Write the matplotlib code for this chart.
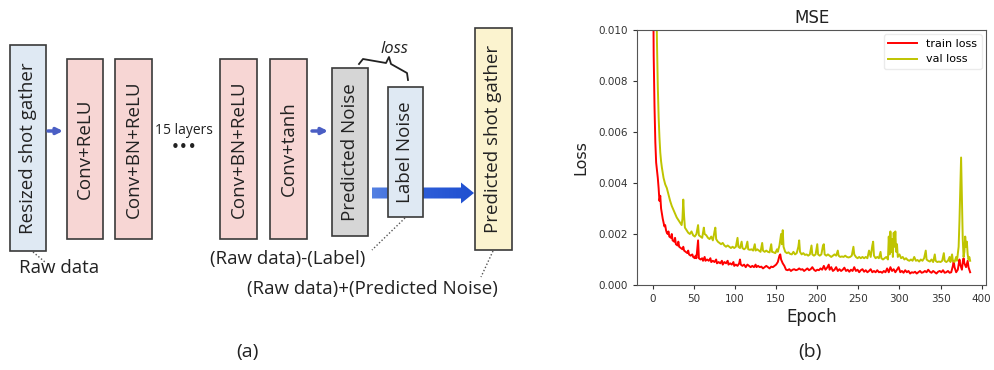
import numpy as np
import matplotlib.pyplot as plt
from matplotlib.patches import Rectangle, FancyArrow
from matplotlib.colors import LinearSegmentedColormap

# training curves (loss values in units of 1e-3)
train_epochs = [0, 1, 2, 3, 4, 5, 6, 7, 8, 9, 10, 11, 12, 13, 14, 15, 16, 17, 18, 19,
                20, 22, 23, 24, 26, 27, 28, 30, 31, 32, 34, 36, 37, 38, 40, 42, 43, 44, 46, 48,
                49, 51, 52, 53, 55, 56, 58, 60, 61, 63, 64, 66, 68, 70, 71, 73, 75, 77, 78, 80,
                82, 84, 85, 87, 89, 91, 92, 94, 96, 98, 99, 101, 103, 105, 106, 107, 109, 111, 113, 115,
                117, 119, 121, 123, 125, 126, 128, 130, 132, 134, 136, 138, 140, 142, 144, 146, 148, 150, 152, 154,
                155, 156, 158, 160, 162, 164, 166, 168, 170, 172, 174, 176, 178, 180, 182, 184, 186, 188, 190, 192,
                194, 196, 198, 200, 202, 204, 206, 208, 210, 212, 214, 215, 217, 219, 221, 223, 225, 227, 229, 231,
                233, 235, 237, 239, 241, 243, 245, 247, 249, 251, 253, 255, 257, 259, 261, 263, 265, 267, 269, 271,
                273, 275, 277, 279, 281, 283, 285, 287, 289, 291, 293, 295, 297, 299, 301, 303, 305, 307, 309, 311,
                313, 315, 317, 319, 321, 323, 325, 327, 329, 331, 333, 335, 337, 339, 341, 343, 345, 347, 349, 351,
                353, 355, 357, 359, 361, 363, 365, 366, 367, 369, 371, 373, 374, 376, 377, 378, 379, 381, 383, 384,
                386]
train_loss = [14.0, 9.0, 7.0, 5.6, 4.8, 4.5, 4.2, 3.8, 3.3, 3.5, 3.0, 2.8, 2.6, 2.45, 2.3, 2.35, 2.15, 2.05, 2.0, 2.1,
              1.9, 1.85, 2.0, 1.75, 1.7, 1.85, 1.6, 1.55, 1.7, 1.5, 1.45, 1.4, 1.5, 1.35, 1.3, 1.25, 1.35, 1.2, 1.15, 1.2,
              1.1, 1.05, 1.15, 1.05, 1.75, 1.05, 1.0, 1.05, 0.95, 1.1, 0.95, 1.0, 0.95, 1.05, 0.9, 0.95, 0.9, 1.0, 0.85, 0.9,
              0.85, 0.95, 0.8, 0.9, 0.85, 0.95, 0.8, 0.85, 0.8, 0.9, 0.75, 0.8, 0.75, 0.85, 1.0, 0.8, 0.75, 0.8, 0.7, 0.8,
              0.75, 0.7, 0.75, 0.7, 0.8, 0.7, 0.75, 0.7, 0.72, 0.65, 0.7, 0.75, 0.7, 0.65, 0.72, 0.7, 0.75, 0.8, 0.9, 1.15,
              1.2, 1.0, 0.85, 0.75, 0.6, 0.58, 0.62, 0.55, 0.6, 0.62, 0.58, 0.6, 0.65, 0.6, 0.62, 0.55, 0.6, 0.65, 0.58, 0.62,
              0.7, 0.6, 0.55, 0.6, 0.58, 0.65, 0.6, 0.75, 0.6, 0.68, 0.8, 0.6, 0.7, 0.55, 0.6, 0.7, 0.55, 0.62, 0.55, 0.6,
              0.68, 0.55, 0.6, 0.52, 0.6, 0.55, 0.7, 0.55, 0.6, 0.5, 0.58, 0.62, 0.52, 0.58, 0.5, 0.55, 0.62, 0.5, 0.55, 0.5,
              0.58, 0.5, 0.52, 0.48, 0.55, 0.5, 0.65, 0.5, 0.7, 0.55, 0.62, 0.5, 0.6, 0.7, 0.5, 0.55, 0.48, 0.58, 0.5, 0.55,
              0.45, 0.5, 0.48, 0.52, 0.45, 0.5, 0.55, 0.48, 0.5, 0.55, 0.5, 0.6, 0.52, 0.48, 0.55, 0.5, 0.45, 0.52, 0.55, 0.5,
              0.58, 0.48, 0.5, 0.55, 0.48, 0.5, 0.75, 0.95, 0.7, 0.5, 0.6, 1.0, 0.8, 0.6, 0.9, 1.05, 0.85, 0.7, 0.95, 0.7,
              0.5]

val_epochs = [0, 2, 4, 5, 6, 7, 8, 9, 10, 11, 12, 13, 15, 17, 19, 21, 23, 25, 27, 29,
              31, 33, 35, 36, 37, 38, 39, 41, 43, 45, 47, 49, 51, 53, 55, 56, 58, 60, 62, 63,
              65, 67, 69, 71, 73, 75, 76, 77, 79, 81, 83, 85, 87, 89, 91, 93, 95, 97, 99, 101,
              103, 104, 106, 108, 109, 111, 113, 115, 116, 118, 120, 122, 124, 125, 127, 129, 131, 133, 134, 136,
              138, 140, 142, 144, 145, 147, 149, 151, 152, 154, 156, 157, 158, 159, 161, 163, 165, 167, 169, 171,
              173, 175, 177, 178, 179, 181, 183, 185, 187, 189, 191, 193, 194, 196, 198, 200, 201, 203, 205, 207,
              208, 209, 211, 213, 215, 217, 219, 221, 223, 225, 226, 228, 230, 232, 234, 236, 238, 240, 242, 244,
              245, 247, 249, 251, 253, 255, 257, 259, 261, 263, 265, 267, 268, 269, 271, 273, 275, 277, 278, 280,
              282, 284, 286, 287, 288, 289, 290, 291, 292, 293, 294, 295, 296, 297, 298, 300, 302, 304, 306, 308,
              310, 312, 314, 316, 318, 320, 322, 324, 326, 328, 330, 332, 333, 335, 337, 339, 341, 343, 344, 346,
              348, 350, 352, 354, 355, 357, 359, 361, 362, 364, 365, 367, 369, 370, 372, 373, 374, 375, 376, 377,
              378, 379, 380, 381, 382, 383, 384, 385, 386]
val_loss = [40.0, 20.0, 12.0, 9.5, 7.8, 6.6, 5.8, 5.2, 4.85, 4.6, 4.4, 4.2, 3.95, 3.8, 3.55, 3.3, 3.1, 2.95, 2.8, 2.65,
            2.55, 2.45, 2.35, 2.6, 3.35, 2.7, 2.25, 2.15, 2.05, 2.0, 2.1, 1.95, 1.9, 2.0, 2.35, 1.95, 1.9, 1.85, 2.25, 2.0,
            1.95, 1.85, 1.8, 1.9, 1.75, 2.1, 2.25, 1.8, 1.7, 1.65, 1.6, 1.65, 1.55, 1.5, 1.55, 1.5, 1.45, 1.5, 1.45, 1.5,
            1.85, 1.5, 1.45, 1.7, 1.45, 1.4, 1.45, 1.7, 1.4, 1.38, 1.4, 1.35, 1.6, 1.35, 1.4, 1.35, 1.3, 1.65, 1.35, 1.3,
            1.35, 1.3, 1.28, 1.6, 1.3, 1.28, 1.25, 1.4, 1.3, 1.55, 2.0, 1.6, 2.15, 1.5, 1.3, 1.25, 1.28, 1.22, 1.2, 1.3,
            1.2, 1.25, 1.5, 1.75, 1.3, 1.2, 1.25, 1.18, 1.2, 1.15, 1.2, 1.55, 1.2, 1.15, 1.2, 1.6, 1.2, 1.15, 1.2, 1.55,
            1.6, 1.2, 1.15, 1.2, 1.15, 1.1, 1.15, 1.2, 1.15, 1.35, 1.15, 1.1, 1.12, 1.1, 1.15, 1.1, 1.08, 1.1, 1.15, 1.5,
            1.2, 1.1, 1.05, 1.1, 1.05, 1.1, 1.05, 1.1, 1.05, 1.35, 1.1, 1.55, 1.7, 1.15, 1.05, 1.1, 1.05, 1.3, 1.05, 1.0,
            1.05, 1.1, 1.0, 1.9, 1.2, 2.1, 1.3, 1.8, 1.1, 2.05, 1.5, 2.1, 1.3, 1.6, 1.1, 1.2, 1.05, 1.1, 1.0, 1.05,
            0.98, 0.95, 1.0, 0.95, 1.1, 0.95, 0.98, 0.92, 1.0, 0.95, 1.05, 1.35, 1.0, 0.95, 0.92, 1.0, 0.9, 1.2, 0.95, 0.9,
            0.92, 0.9, 0.95, 1.25, 0.95, 0.9, 0.95, 1.1, 0.9, 1.2, 0.95, 0.9, 1.1, 0.95, 1.5, 2.5, 3.8, 5.0, 3.5, 1.8,
            1.1, 1.3, 1.9, 1.5, 1.7, 1.2, 1.0, 1.1, 0.95]

# network blocks: label, left, top, width, height, fill colour (pixel units)
block_labels = ['Resized shot gather', 'Conv+ReLU', 'Conv+BN+ReLU', 'Conv+BN+ReLU', 'Conv+tanh',
                'Predicted Noise', 'Label Noise', 'Predicted shot gather']
block_left = [10, 67, 115, 220, 270, 332, 388, 475]
block_top = [45, 59, 59, 59, 59, 68, 87, 28]
block_width = [36, 36, 37, 37, 37, 36, 35, 37]
block_height = [206, 180, 180, 180, 180, 168, 130, 222]
block_colors = ['#dfe9f3', '#f7d6d4', '#f7d6d4', '#f7d6d4', '#f7d6d4',
                '#d6d6d6', '#dfe9f3', '#fbf3cf']

diagram_font = ['Open Sans', 'DejaVu Sans']

fig = plt.figure(figsize=(9.94, 3.70), dpi=100)

# left panel: drawn on a full-figure axes measured in pixels
ax0 = fig.add_axes([0, 0, 1, 1])
ax0.set_xlim(0, 994)
ax0.set_ylim(370, 0)
ax0.axis('off')

for lab, x0, y0, w, h, c in zip(block_labels, block_left, block_top,
                                 block_width, block_height, block_colors):
    ax0.add_patch(Rectangle((x0, y0), w, h, facecolor=c, edgecolor='#3a3a3a',
                            lw=1.2, zorder=3))
    ax0.text(x0 + w / 2, y0 + h / 2, lab, rotation=90, ha='center', va='center',
             fontsize=13.5, family=diagram_font, color='#222222', zorder=4)

# small connector arrows
for xs, xe in [(48, 63), (312, 328)]:
    ax0.annotate('', xy=(xe, 131), xytext=(xs, 131),
                 arrowprops=dict(arrowstyle='-|>', color='#4a5ec4', lw=2.5,
                                 mutation_scale=9, shrinkA=0, shrinkB=0))

# big arrow to the output, filled with a blue gradient
big = FancyArrow(372, 193, 89, 0, width=11, head_width=21, head_length=13,
                 length_includes_head=False, lw=0, facecolor='none', zorder=2)
ax0.add_patch(big)
grad = np.linspace(0, 1, 256).reshape(1, -1)
blue_cmap = LinearSegmentedColormap.from_list('arrow_blue', ['#5581e2', '#2d5dd8', '#1f4fd0'])
img = ax0.imshow(grad, extent=(372, 475, 204, 182), cmap=blue_cmap, aspect='auto', zorder=2)
img.set_clip_path(big)

# "15 layers" and the dots between the conv blocks
ax0.text(184, 130, '15 layers', ha='center', va='center', fontsize=10,
         family=diagram_font, color='#222222')
ax0.text(184, 147, '\u2022\u2022\u2022', ha='center', va='center', fontsize=11,
         family='DejaVu Sans', color='#222222')

# brace between predicted and label noise
brace_x = [359, 363, 386, 389, 391, 407, 408]
brace_y = [64, 59, 63, 57, 64, 73, 80]
ax0.plot(brace_x, brace_y, color='#222222', lw=1.3)
ax0.text(394, 49, 'loss', ha='center', va='center', fontsize=12,
         style='italic', family=diagram_font, color='#222222')

# dotted leader lines to the captions
for (xa, ya), (xb, yb) in [((33, 252), (45, 262)), ((405, 218), (372, 250)),
                           ((493, 251), (481, 277))]:
    ax0.plot([xa, xb], [ya, yb], ls=(0, (1, 1.5)), color='#555555', lw=1.0)

ax0.text(59, 268, 'Raw data', ha='center', va='center', fontsize=13.5,
         family=diagram_font, color='#222222')
ax0.text(288, 259, '(Raw data)-(Label)', ha='center', va='center', fontsize=13.5,
         family=diagram_font, color='#222222')
ax0.text(372, 289, '(Raw data)+(Predicted Noise)', ha='center', va='center',
         fontsize=13.5, family=diagram_font, color='#222222')
ax0.text(247, 352, '(a)', ha='center', va='center', fontsize=14,
         family=diagram_font, color='#222222')
ax0.text(810, 352, '(b)', ha='center', va='center', fontsize=14,
         family=diagram_font, color='#222222')

# right panel: loss curves
ax = fig.add_axes([637 / 994, 1 - 285 / 370, 349 / 994, 255 / 370])
ax.plot(train_epochs, np.array(train_loss) * 1e-3, color='red', lw=1.4, label='train loss')
ax.plot(val_epochs, np.array(val_loss) * 1e-3, color='#bfc400', lw=1.4, label='val loss')
ax.set_ylim(0, 0.010)
ax.set_xlim(-19.3, 405.3)
ax.set_xticks(np.arange(0, 401, 50))
ax.set_yticks(np.arange(0, 0.0101, 0.002))
ax.yaxis.set_major_formatter(plt.FormatStrFormatter('%.3f'))
ax.tick_params(labelsize=7.5, colors='#333333', length=3)
ax.set_title('MSE', fontsize=12, pad=5, color='#222222')
ax.set_xlabel('Epoch', fontsize=12, labelpad=3, color='#222222')
ax.set_ylabel('Loss', fontsize=11.5, labelpad=7, color='#222222')
for sp in ax.spines.values():
    sp.set_color('#555555')
leg = ax.legend(loc='upper right', fontsize=8, handlelength=2.6, frameon=True,
                borderaxespad=0.4)
leg.get_frame().set_edgecolor('#e6e6e6')

fig.savefig('out.png', dpi=100)
